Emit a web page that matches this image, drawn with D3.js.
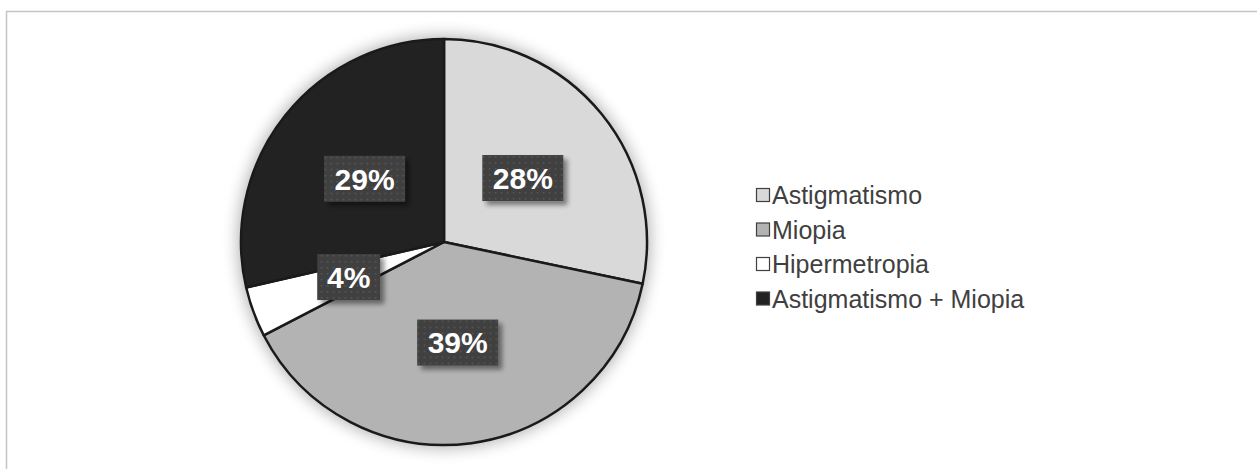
<!DOCTYPE html>
<html>
<head>
<meta charset="utf-8">
<script src="https://cdn.jsdelivr.net/npm/d3@7"></script>
<style>
	body{margin:0;background:#fff;}
	svg{display:block;font-family:"Liberation Sans", Arial, sans-serif;}
</style>
</head>
<body>
<div id="chart"></div>
<script>
'use strict'
// data
var categories = ['Astigmatismo', 'Miopia', 'Hipermetropia', 'Astigmatismo + Miopia'];
var values = [28.3, 39.1, 4.0, 28.6];
var labels = ['28%', '39%', '4%', '29%'];
var colors = ['#d9d9d9', '#b3b3b3', '#ffffff', '#222222'];

var W = 1257, H = 469;
var cx = 444, cy = 242, R = 203;

var svg = d3.select('#chart').append('svg')
	.attr('width', W).attr('height', H);

var defs = svg.append('defs');

// soft glow behind the pie
var glow = defs.append('filter').attr('id', 'glow')
	.attr('x', '-25%').attr('y', '-25%').attr('width', '150%').attr('height', '150%');
glow.append('feGaussianBlur').attr('stdDeviation', 8);

// shadow for label boxes
var sh = defs.append('filter').attr('id', 'boxshadow')
	.attr('x', '-20%').attr('y', '-30%').attr('width', '150%').attr('height', '170%');
sh.append('feGaussianBlur').attr('in', 'SourceAlpha').attr('stdDeviation', 2.5).attr('result', 'b');
sh.append('feOffset').attr('in', 'b').attr('dx', 4).attr('dy', 4).attr('result', 'o');
sh.append('feComponentTransfer').attr('in', 'o').attr('result', 'oa')
	.append('feFuncA').attr('type', 'linear').attr('slope', 0.45);
var m = sh.append('feMerge');
m.append('feMergeNode').attr('in', 'oa');
m.append('feMergeNode').attr('in', 'SourceGraphic');

// dotted pattern for label boxes
var pat = defs.append('pattern').attr('id', 'dots')
	.attr('patternUnits', 'userSpaceOnUse').attr('width', 6).attr('height', 6);
pat.append('rect').attr('width', 6).attr('height', 6).attr('fill', '#404040');
pat.append('rect').attr('x', 2).attr('y', 2).attr('width', 1.5).attr('height', 1.5).attr('fill', '#5a5a5a');

// chart area border
svg.append('rect')
	.attr('x', 6.5).attr('y', 11.5)
	.attr('width', W + 10).attr('height', H + 20)
	.attr('fill', 'none').attr('stroke', '#c4c4c4').attr('stroke-width', 1.5);

var g = svg.append('g').attr('transform', 'translate(' + cx + ',' + cy + ')');

g.append('circle').attr('r', R + 3).attr('fill', '#000').attr('opacity', 0.3)
	.attr('filter', 'url(#glow)');

var pie = d3.pie().sort(null).value(function(d){ return d; });
var arcs = pie(values);
var arc = d3.arc().innerRadius(0).outerRadius(R);
var labelArc = d3.arc().innerRadius(R * 0.5).outerRadius(R * 0.5);

g.selectAll('path.slice').data(arcs).enter().append('path')
	.attr('class', 'slice')
	.attr('d', arc)
	.attr('fill', function(d, i){ return colors[i]; })
	.attr('stroke', '#1a1a1a')
	.attr('stroke-width', 2.5)
	.attr('stroke-linejoin', 'round');

var lab = g.selectAll('g.lab').data(arcs).enter().append('g')
	.attr('class', 'lab')
	.attr('transform', function(d){ return 'translate(' + labelArc.centroid(d) + ')'; });

lab.append('rect')
	.attr('x', function(d, i){ return labels[i].length > 2 ? -40.5 : -31.5; })
	.attr('width', function(d, i){ return labels[i].length > 2 ? 81 : 63; })
	.attr('y', -23).attr('height', 46)
	.attr('fill', 'url(#dots)')
	.attr('filter', 'url(#boxshadow)');

lab.append('text')
	.attr('text-anchor', 'middle')
	.attr('dy', '0.36em')
	.attr('fill', '#fff')
	.attr('font-weight', 'bold')
	.attr('font-size', 30)
	.text(function(d, i){ return labels[i]; });

// legend
var legend = svg.append('g').attr('transform', 'translate(756,195)');
var row = legend.selectAll('g').data(categories).enter().append('g')
	.attr('transform', function(d, i){ return 'translate(0,' + (i * 34.5) + ')'; });

row.append('rect')
	.attr('x', 0.5).attr('y', -6.5).attr('width', 13).attr('height', 13)
	.attr('fill', function(d, i){ return colors[i]; })
	.attr('stroke', '#404040').attr('stroke-width', 1.2);

row.append('text')
	.attr('x', 16).attr('dy', '0.36em')
	.attr('font-size', 25)
	.attr('fill', '#404040')
	.text(function(d){ return d; });
</script>
</body>
</html>
